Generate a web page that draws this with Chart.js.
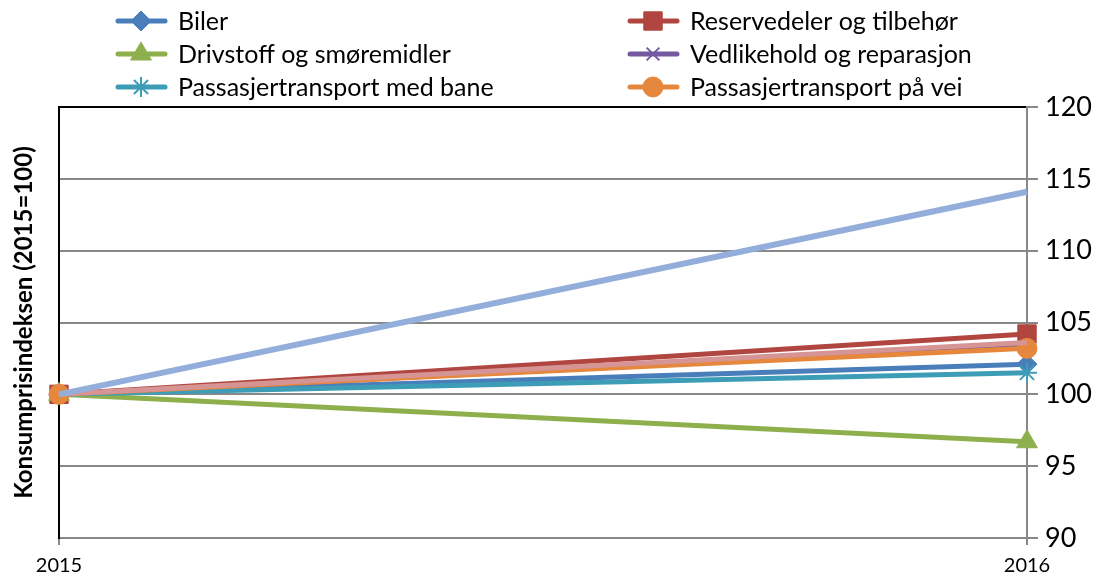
<!DOCTYPE html>
<html>
<head>
<meta charset="utf-8">
<style>
  html, body { margin: 0; padding: 0; background: #fff; }
  #wrap { width: 1113px; height: 578px; position: relative; }
</style>
<script src="https://cdn.jsdelivr.net/npm/chart.js"></script>
</head>
<body>
<div id="wrap"><canvas id="chart" width="1113" height="578"></canvas></div>
<script>
// data
const years = ['2015', '2016'];
const seriesNames = [
  'Biler', 'Reservedeler og tilbehør',
  'Drivstoff og smøremidler', 'Vedlikehold og reparasjon',
  'Passasjertransport med bane', 'Passasjertransport på vei'
];
const biler = [100, 102.1];
const reservedeler = [100, 104.2];
const drivstoff = [100, 96.7];
const vedlikehold = [100, 103.3];
const bane = [100, 101.5];
const vei = [100, 103.2];
// two series without legend entries
const ekstra1 = [100, 114.1];
const ekstra2 = [100, 103.6];
const yTicks = [90, 95, 100, 105, 110, 115, 120];

const mk = (label, data, color, style, radius, order) => ({
  label, data,
  borderColor: color, backgroundColor: color,
  pointBackgroundColor: color, pointBorderColor: color,
  borderWidth: 5, pointStyle: style, pointRadius: radius,
  pointBorderWidth: (style === 'star' || style === 'crossRot') ? 2 : 1,
  pointHoverRadius: radius,
  tension: 0, order, yAxisID: 'y'
});

// lower order is drawn on top
const datasets = [
  mk(seriesNames[0], biler, '#4A7EBB', 'rectRot', 10, 10),
  mk(seriesNames[1], reservedeler, '#B0463F', 'rect', 13, 9),
  mk(seriesNames[2], drivstoff, '#8DB04C', 'triangle', 12, 8),
  mk(seriesNames[3], vedlikehold, '#7558A0', 'crossRot', 9, 7),
  mk(seriesNames[4], bane, '#3D9DB7', 'star', 10, 6),
  mk(seriesNames[5], vei, '#E5873D', 'circle', 10, 5),
  mk('', ekstra1, '#93AEDA', 'circle', 0, 3),
  mk('', ekstra2, '#D69594', 'circle', 0, 4)
];
datasets[6].borderWidth = 6;

const legendPlugin = {
  id: 'colLegend',
  afterDraw(chart) {
    const ctx = chart.ctx;
    const cols = [118, 630];
    const rows = [21, 54, 87];
    ctx.save();
    seriesNames.forEach((name, i) => {
      const ds = chart.data.datasets[i];
      const x = cols[i % 2], y = rows[Math.floor(i / 2)];
      ctx.strokeStyle = ds.borderColor;
      ctx.lineWidth = 5;
      ctx.lineCap = 'round';
      ctx.beginPath();
      ctx.moveTo(x, y); ctx.lineTo(x + 47, y);
      ctx.stroke();
      ctx.fillStyle = ds.backgroundColor;
      ctx.lineWidth = ds.pointBorderWidth;
      ctx.lineCap = 'butt';
      Chart.helpers.drawPoint(ctx, {
        pointStyle: ds.pointStyle, radius: ds.pointRadius, rotation: 0,
        borderWidth: ds.pointBorderWidth
      }, x + 23, y);
      ctx.fillStyle = '#000';
      ctx.font = '25px Lato';
      ctx.textBaseline = 'middle';
      ctx.textAlign = 'left';
      ctx.fillText(name, x + 60, y + 1);
    });
    ctx.restore();
  }
};

new Chart(document.getElementById('chart'), {
  type: 'line',
  data: { labels: years, datasets },
  options: {
    responsive: false,
    animation: false,
    layout: { padding: { top: 107, right: 0, left: 0, bottom: 0 } },
    plugins: { legend: { display: false }, tooltip: { enabled: false } },
    scales: {
      x: {
        offset: false,
        grid: { color: '#888', lineWidth: 2, tickLength: 7, tickColor: '#888' },
        border: { color: '#888', width: 2 },
        ticks: { color: '#000', font: { family: 'Lato', size: 20 }, padding: 9, maxRotation: 0 },
        afterFit(s) { s.height = 40; }
      },
      y: {
        position: 'right',
        min: 90, max: 120,
        afterBuildTicks(s) { s.ticks = yTicks.map(v => ({ value: v })); },
        grid: {
          color: c => (c.tick && c.tick.value === 120) ? '#000' : '#888',
          lineWidth: 2, tickLength: 11, tickColor: '#888'
        },
        border: { color: '#888', width: 2 },
        ticks: { color: '#000', font: { family: 'Lato', size: 27 }, padding: 7 },
        afterFit(s) { s.width = 86; }
      },
      yL: {
        position: 'left',
        min: 90, max: 120,
        z: 1,
        grid: { display: false, drawTicks: false },
        border: { color: '#000', width: 2 },
        ticks: { display: false },
        title: {
          display: true, text: 'Konsumprisindeksen (2015=100)',
          color: '#000', font: { family: 'Lato', size: 24, weight: 'bold' }, padding: 10
        },
        afterFit(s) { s.width = 59; }
      }
    }
  },
  plugins: [legendPlugin]
});
</script>
</body>
</html>
